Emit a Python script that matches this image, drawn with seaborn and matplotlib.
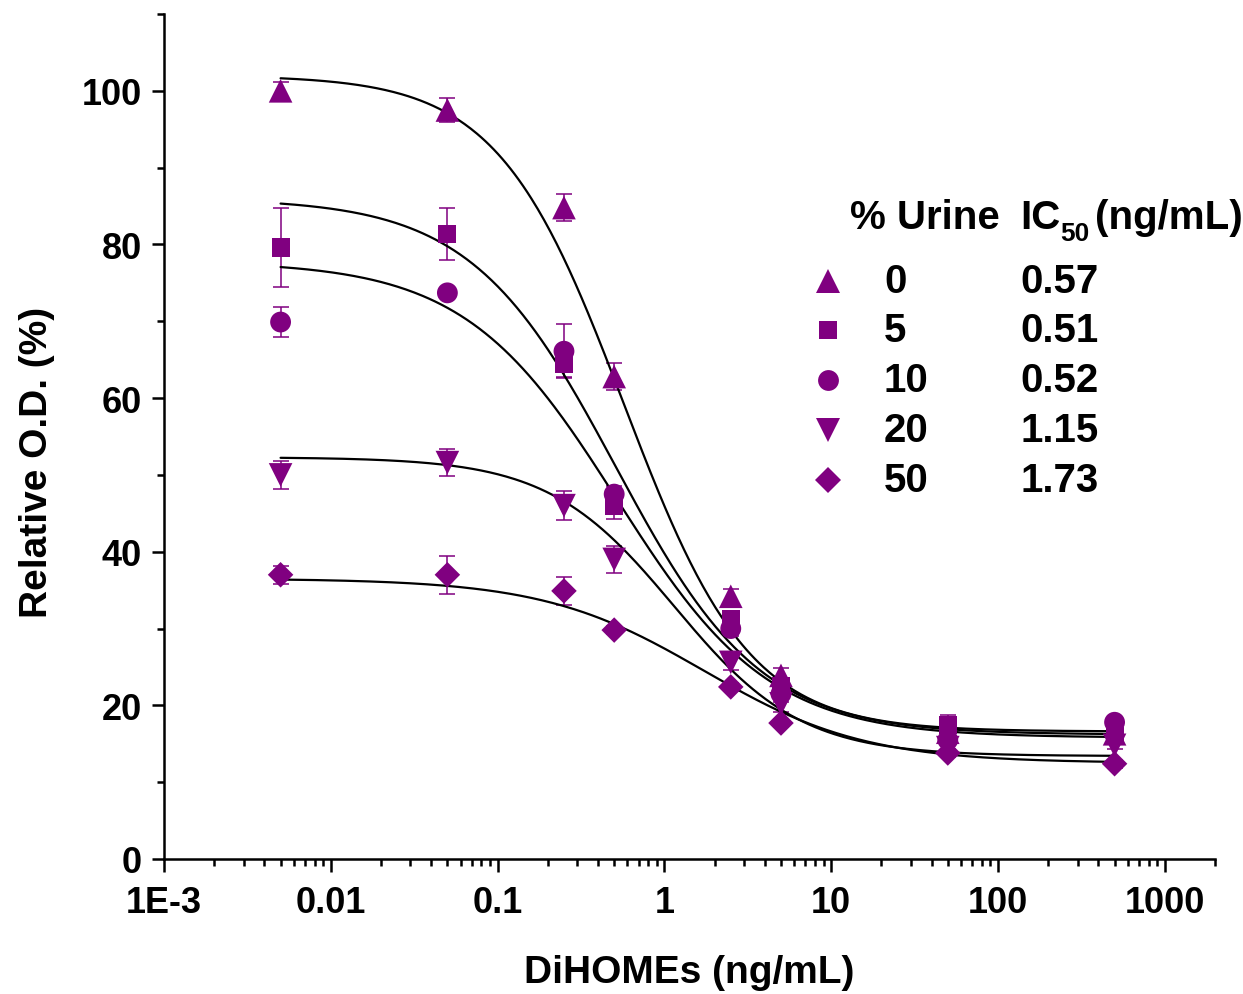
import numpy as np
import pandas as pd
import matplotlib
matplotlib.use("Agg")
import matplotlib.pyplot as plt
import seaborn as sns

# ---- data ----
conc = [0.005, 0.05, 0.25, 0.5, 2.5, 5, 50, 500]
urine_pct = ["0", "5", "10", "20", "50"]
ic50_labels = ["0.57", "0.51", "0.52", "1.15", "1.73"]

od_0 = [100.0, 97.5, 84.8, 62.8, 34.2, 23.9, 16.5, 16.3]
od_5 = [79.6, 81.4, 64.4, 45.9, 31.3, 22.5, 17.5, 16.0]
od_10 = [69.9, 73.7, 66.1, 47.5, 30.0, 21.5, 15.5, 17.8]
od_20 = [50.0, 51.6, 46.0, 39.0, 25.6, 20.2, 14.5, 14.8]
od_50 = [37.0, 37.0, 34.9, 29.8, 22.4, 17.7, 13.8, 12.4]

sd_0 = [1.2, 1.6, 1.8, 1.8, 1.0, 1.0, 0.5, 0.5]
sd_5 = [5.2, 3.4, 1.7, 1.6, 1.0, 1.0, 1.2, 0.5]
sd_10 = [1.9, 0.5, 3.5, 1.0, 1.0, 1.0, 0.5, 0.5]
sd_20 = [1.8, 1.8, 1.9, 1.8, 1.0, 1.0, 0.5, 0.5]
sd_50 = [1.2, 2.5, 1.8, 0.5, 0.5, 0.5, 0.5, 0.5]

# four-parameter logistic fit parameters
fit_top = [102.0, 86.0, 77.8, 52.3, 36.5]
fit_bottom = [16.6, 16.2, 15.8, 13.4, 12.5]
fit_ic50 = [0.57, 0.51, 0.52, 1.15, 1.73]
fit_hill = [1.15, 1.0, 0.95, 1.15, 0.9]

x_ticks = [0.001, 0.01, 0.1, 1, 10, 100, 1000]
x_ticklabels = ["1E-3", "0.01", "0.1", "1", "10", "100", "1000"]
y_ticks = [0, 20, 40, 60, 80, 100]

# ---- style ----
sns.set_style("ticks")
plt.rcParams['font.family'] = ['Liberation Sans', 'DejaVu Sans']
plt.rcParams['font.weight'] = 'bold'
plt.rcParams['text.color'] = 'black'
plt.rcParams['axes.labelcolor'] = 'black'
plt.rcParams['xtick.color'] = 'black'
plt.rcParams['ytick.color'] = 'black'

PURPLE = "#800080"
markers = ["^", "s", "o", "v", "D"]
msizes = [17, 13, 15, 17, 13]

W, H = 1243, 995
fig = plt.figure(figsize=(W / 100, H / 100), dpi=100)
ax = fig.add_axes([164 / W, 1 - 860 / H, (1215 - 164) / W, (860 - 15) / H])

series = [od_0, od_5, od_10, od_20, od_50]
sds = [sd_0, sd_5, sd_10, sd_20, sd_50]

# fitted curves
xs = np.logspace(np.log10(conc[0]), np.log10(conc[-1]), 400)
for i in range(len(series)):
    ys = fit_bottom[i] + (fit_top[i] - fit_bottom[i]) / (1 + (xs / fit_ic50[i]) ** fit_hill[i])
    sns.lineplot(x=xs, y=ys, ax=ax, color="black", linewidth=1.6, zorder=3)

# error bars and markers
for i in range(len(series)):
    ax.errorbar(conc, series[i], yerr=sds[i], fmt="none", ecolor=PURPLE,
                elinewidth=1.1, capsize=6, capthick=1.1, zorder=2)
    sns.scatterplot(x=conc, y=series[i], ax=ax, marker=markers[i],
                    s=msizes[i] ** 2, color=PURPLE, edgecolor="none",
                    linewidth=0, zorder=4)

ax.set_xscale("log")
ax.set_xlim(0.001, 2000)
ax.set_ylim(0, 110)
ax.set_xticks(x_ticks)
ax.set_xticklabels(x_ticklabels)
ax.xaxis.set_minor_locator(matplotlib.ticker.LogLocator(base=10, subs=np.arange(2, 10), numticks=20))
ax.xaxis.set_minor_formatter(matplotlib.ticker.NullFormatter())
ax.set_yticks(y_ticks)
ax.yaxis.set_minor_locator(matplotlib.ticker.MultipleLocator(10))

for s in ["top", "right"]:
    ax.spines[s].set_visible(False)
for s in ["left", "bottom"]:
    ax.spines[s].set_linewidth(1.8)
    ax.spines[s].set_color("black")

ax.tick_params(axis="both", which="major", direction="out", length=9, width=1.8,
               labelsize=26, color="black")
ax.tick_params(axis="x", which="major", pad=10)
ax.tick_params(axis="y", which="major", pad=7)
ax.tick_params(axis="both", which="minor", direction="out", length=5, width=1.8, color="black")
for lab in ax.get_xticklabels() + ax.get_yticklabels():
    lab.set_fontweight("bold")

ax.set_xlabel("DiHOMEs (ng/mL)", fontsize=28, fontweight="bold", labelpad=24)
ax.set_ylabel("Relative O.D. (%)", fontsize=28, fontweight="bold")
ax.yaxis.set_label_coords(-0.104, 0.47)

# ---- legend table ----
def fx(px):
    return px / W

def fy(py):
    return 1 - py / H

fs = 29
fig.text(fx(850), fy(218), "% Urine", fontsize=fs, fontweight="bold", va="center", ha="left")
fig.text(fx(1020), fy(218), "IC", fontsize=fs, fontweight="bold", va="center", ha="left")
fig.text(fx(1060), fy(234), "50", fontsize=19, fontweight="bold", va="center", ha="left")
fig.text(fx(1095), fy(218), "(ng/mL)", fontsize=fs, fontweight="bold", va="center", ha="left")
row_y = [282, 331, 381, 431, 481]
for i in range(len(series)):
    ax.plot([fx(828)], [fy(row_y[i])], marker=markers[i], markersize=msizes[i],
            color=PURPLE, markeredgewidth=0, linestyle="none",
            transform=fig.transFigure, clip_on=False)
    fig.text(fx(884), fy(row_y[i]), urine_pct[i], fontsize=fs, fontweight="bold",
             va="center", ha="left")
    fig.text(fx(1020), fy(row_y[i]), ic50_labels[i], fontsize=fs, fontweight="bold",
             va="center", ha="left")

fig.savefig("out.png", dpi=100)
